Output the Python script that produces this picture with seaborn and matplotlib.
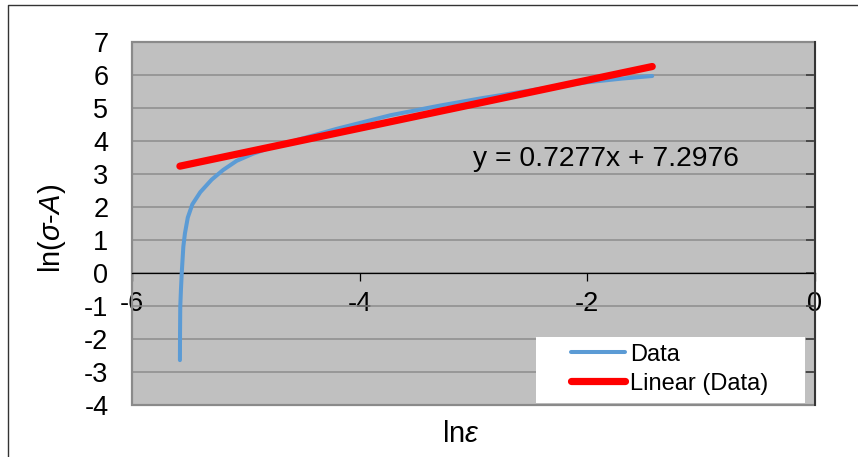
import matplotlib
matplotlib.use("Agg")
import matplotlib.pyplot as plt
from matplotlib.lines import Line2D
from matplotlib.patches import Rectangle
import numpy as np
import pandas as pd
import seaborn as sns

# ln(strain) vs ln(stress - A)
ln_eps = [-5.579, -5.578, -5.576, -5.570, -5.563, -5.549, -5.535, -5.51, -5.47,
          -5.40, -5.30, -5.20, -5.08, -4.94, -4.79, -4.50, -4.20, -3.73, -3.30,
          -2.94, -2.36, -2.00, -1.70, -1.43]
ln_stress = [-2.64, -1.80, -1.02, -0.50, 0.00, 0.80, 1.20, 1.68, 2.08,
             2.45, 2.83, 3.12, 3.40, 3.61, 3.79, 4.08, 4.37, 4.78, 5.07,
             5.29, 5.61, 5.78, 5.89, 5.97]

# linear trendline coefficients
slope = 0.7277
intercept = 7.2976

x_ticks = [-6, -4, -2, 0]
y_ticks = list(range(-4, 8))

sns.set_theme(style="white")
plt.rcParams["font.family"] = ["Liberation Sans", "DejaVu Sans"]
plt.rcParams["mathtext.fontset"] = "custom"
plt.rcParams["mathtext.rm"] = "Liberation Sans"
plt.rcParams["mathtext.it"] = "Liberation Sans:italic"
plt.rcParams["text.color"] = "black"
plt.rcParams["xtick.labelcolor"] = "black"
plt.rcParams["ytick.labelcolor"] = "black"

df = pd.DataFrame({"x": ln_eps, "y": ln_stress})
fit_x = np.array([min(ln_eps), max(ln_eps)])
fit_df = pd.DataFrame({"x": fit_x, "y": slope * fit_x + intercept})

fig = plt.figure(figsize=(8.58, 4.57), dpi=100)
ax = fig.add_axes([132 / 858, 52 / 457, 683 / 858, 363 / 457])
ax.set_facecolor("#C0C0C0")

blue = "#5B9BD5"
red = "#FF0000"
sns.lineplot(data=df, x="x", y="y", ax=ax, color=blue, linewidth=2.9,
             sort=False, estimator=None, solid_capstyle="round",
             solid_joinstyle="round", zorder=3)
sns.lineplot(data=fit_df, x="x", y="y", ax=ax, color=red, linewidth=5.2,
             sort=False, estimator=None, solid_capstyle="round", zorder=4)

ax.set_xlim(-6, 0)
ax.set_ylim(-4, 7)
ax.set_xticks(x_ticks)
ax.set_yticks(y_ticks)
ax.set_xticklabels([str(v) for v in x_ticks])
ax.set_yticklabels([str(v) for v in y_ticks])
ax.set_xlabel("")
ax.set_ylabel("")

# horizontal gridlines only
ax.yaxis.grid(True, color="#8C8C8C", linewidth=1.1)
ax.xaxis.grid(False)
ax.set_axisbelow(True)

# plot-area border
for side in ("left", "top"):
    ax.spines[side].set_visible(False)
ax.add_patch(Rectangle((0, 0), 1, 1, transform=ax.transAxes, fill=False,
                       edgecolor="#8A8A8A", linewidth=1.6, zorder=1,
                       clip_on=False))
ax.spines["right"].set_color("#333333")
ax.spines["right"].set_linewidth(1.4)
ax.spines["right"].set_zorder(6)

# x-axis crosses at y = 0
ax.spines["bottom"].set_position(("data", 0))
ax.spines["bottom"].set_color("black")
ax.spines["bottom"].set_linewidth(0.9)
ax.tick_params(axis="x", bottom=True, direction="out", length=5.8, width=0.9,
               color="black", labelsize=19.5, pad=7)
ax.tick_params(axis="y", left=False, right=True, direction="in", length=6.5,
               width=1.1, color="#333333", labelleft=True, labelright=False,
               labelsize=19.5, pad=17)

# trendline equation
ax.text(-3.004, 3.24, f"y = {slope}x + {intercept}", fontsize=20.3,
        ha="left", va="baseline", zorder=5)

# legend on a white panel
ax.add_patch(Rectangle((0.5915, 0.0055), 0.394, 0.182, transform=ax.transAxes,
                       facecolor="white", edgecolor="none", zorder=5))
handles = [Line2D([], [], color=blue, linewidth=2.9, solid_capstyle="round"),
           Line2D([], [], color=red, linewidth=5.2, solid_capstyle="round")]
leg = ax.legend(handles, ["Data", "Linear (Data)"], loc="center left",
                bbox_to_anchor=(0.6428, 0.099), frameon=False, fontsize=17,
                handlelength=2.3, handletextpad=0.2, labelspacing=0.3,
                borderpad=0, borderaxespad=0)
leg.set_zorder(7)

# axis titles
fig.text(461 / 858, 1 - 442 / 457, r"ln$\varepsilon$", fontsize=21,
         ha="center", va="baseline")
fig.text(60 / 858, 1 - 228 / 457, r"ln($\sigma$-$A$)", fontsize=21,
         rotation=90, rotation_mode="anchor", ha="center", va="baseline")

# outer chart frame
fig.add_artist(Line2D([8 / 858, 8 / 858, 1.0], [0.0, 1 - 5 / 457, 1 - 5 / 457],
                      transform=fig.transFigure, color="#333333", linewidth=1.0))

fig.savefig("out.png", dpi=100)
